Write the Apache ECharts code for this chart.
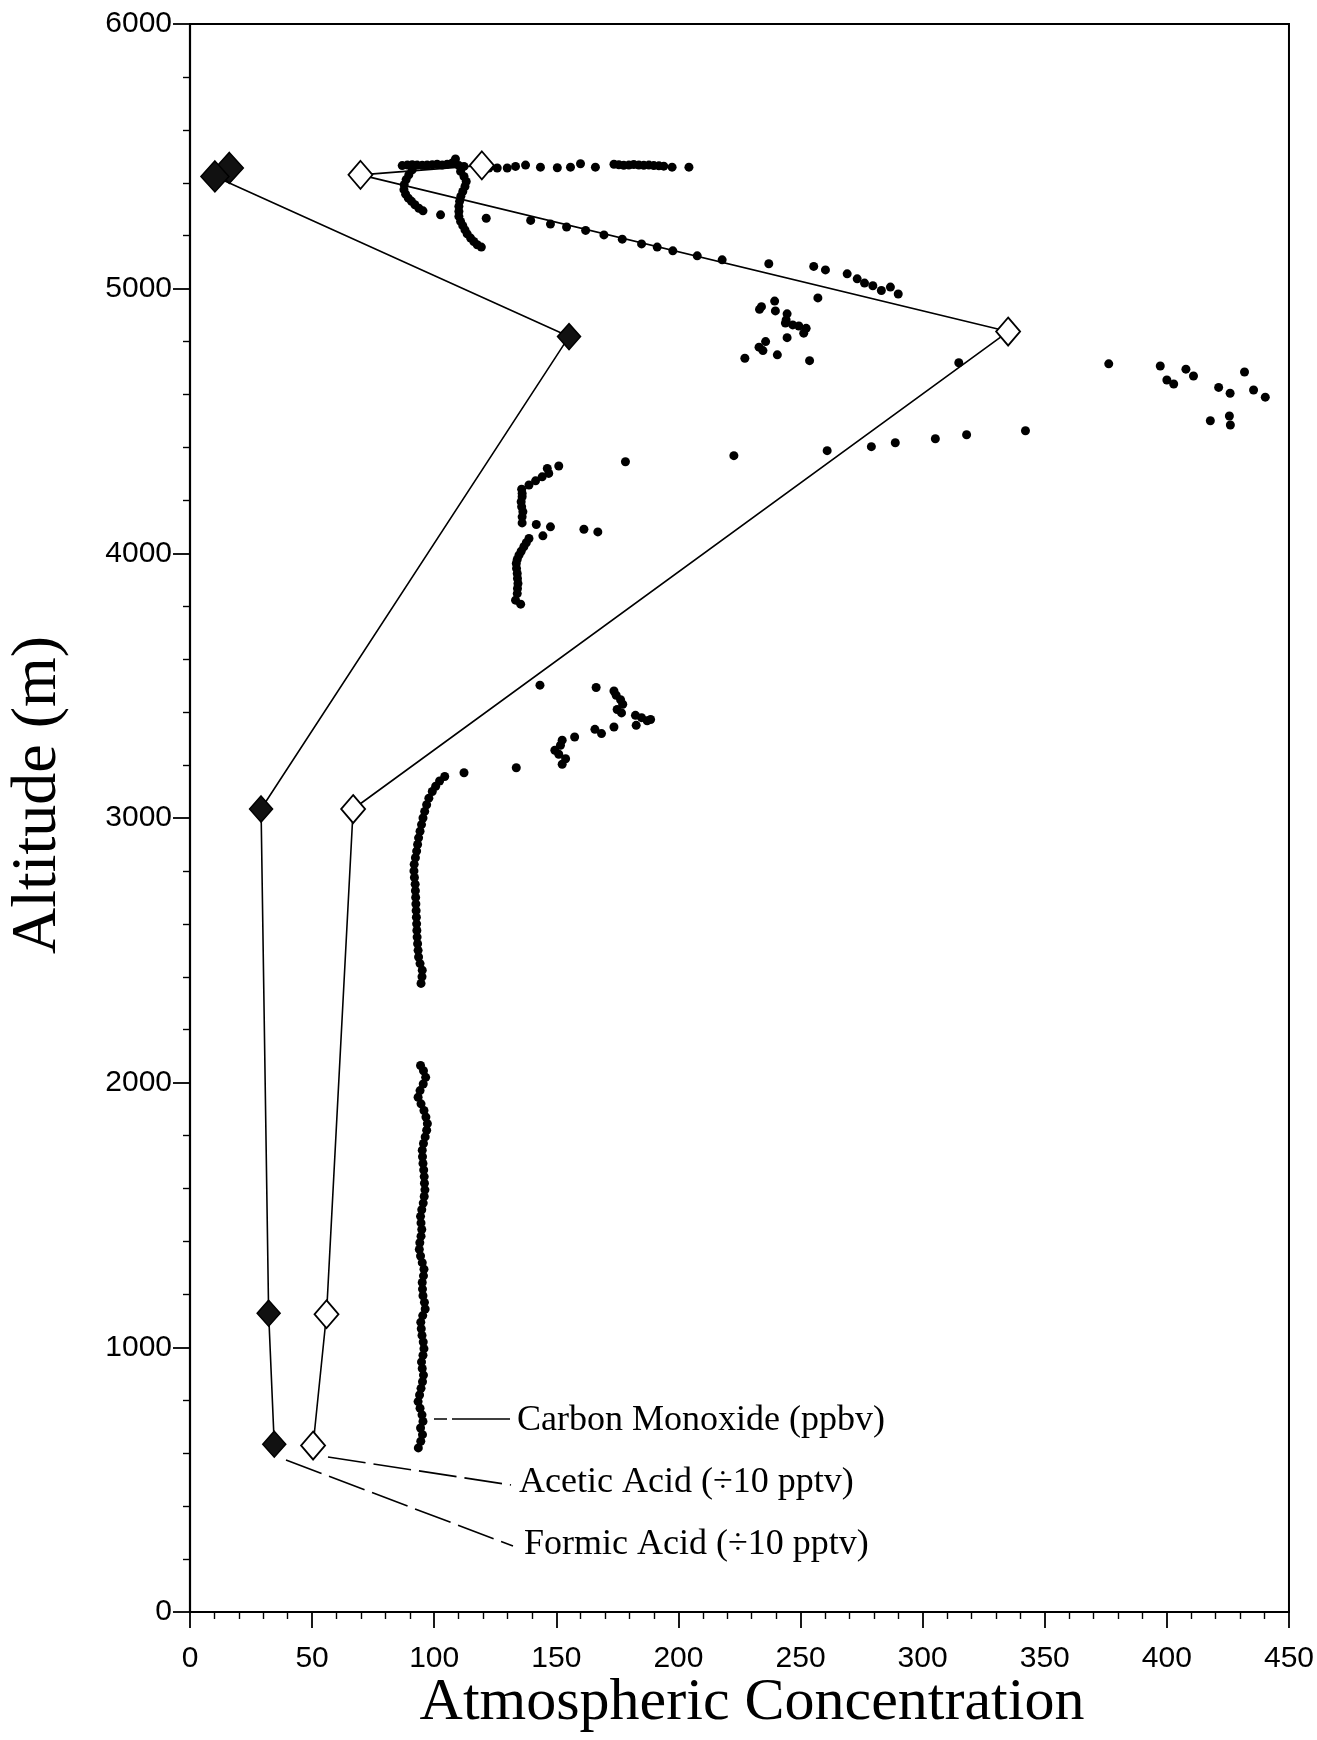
<!DOCTYPE html>
<html>
<head>
<meta charset="utf-8">
<title>Atmospheric Concentration vs Altitude</title>
<script src="https://cdn.jsdelivr.net/npm/echarts@6/dist/echarts.min.js"></script>
<style>
  html, body { margin: 0; padding: 0; background: #fff; }
  #chart { width: 1317px; height: 1740px; }
</style>
</head>
<body>
<div id="chart"></div>
<script>
// Axis ticks
const xTicks = [0, 50, 100, 150, 200, 250, 300, 350, 400, 450];
const yTicks = [0, 1000, 2000, 3000, 4000, 5000, 6000];

// Formic acid (÷10 pptv), ordered from the top of the profile down
const formicConc = [16.1, 10.2, 155.2, 29.1, 32.2, 34.5];
const formicAlt  = [5456, 5424, 4819, 3034, 1129, 634];

// Acetic acid (÷10 pptv)
const aceticConc = [119.5, 69.8, 335.0, 66.8, 55.9, 50.4];
const aceticAlt  = [5466, 5430, 4838, 3034, 1125, 629];

// Carbon monoxide (ppbv) samples as [concentration, altitude]
const coLowTrace = [
  [93.5,620],[94.5,645],[95.2,670],[94.4,695],[95.4,720],[95.0,745],[94.2,770],[93.4,795],
  [94.0,820],[94.6,845],[95.2,870],[95.6,895],[95.1,920],[94.8,945],[95.4,970],[95.8,995],
  [95.5,1020],[95.0,1045],[94.7,1070],[94.5,1095],[95.3,1120],[96.3,1145],[96.0,1170],[95.4,1195],
  [95.2,1220],[95.1,1245],[95.6,1270],[95.8,1295],[95.1,1320],[94.4,1345],[93.9,1370],[94.1,1395],
  [94.6,1420],[94.9,1445],[94.6,1470],[94.4,1495],[94.9,1520],[95.5,1545],[95.9,1570],[96.2,1595],
  [96.0,1620],[95.9,1645],[95.7,1670],[95.4,1695],[95.2,1720],[95.1,1745],[95.6,1770],[96.3,1795],
  [96.9,1820],[97.2,1845],[96.6,1870],[95.8,1895],[94.6,1920],[93.4,1945],[94.2,1970],[95.5,1995],
  [96.5,2020],[95.6,2045],[94.4,2065]
];
const coMidTrace = [
  [94.6,2375],[95.0,2400],[95.1,2425],[94.2,2450],[93.6,2475],[93.4,2500],[93.2,2525],[93.0,2550],
  [92.9,2575],[92.8,2600],[92.7,2625],[92.6,2650],[92.5,2675],[92.4,2700],[92.3,2725],[92.2,2750],
  [91.9,2775],[91.7,2800],[91.8,2825],[92.3,2850],[92.8,2875],[93.2,2900],[93.6,2925],[94.2,2950],
  [94.8,2975],[95.4,3000],[96.1,3025],[96.9,3050],[97.8,3075],[99.2,3100],[100.6,3120],[102.2,3140],
  [104.3,3157]
];
const coLayer3300 = [
  [112.2,3171],[133.6,3190],[152.4,3203],[153.8,3224],[151.0,3241],[149.4,3256],[151.7,3275],
  [152.4,3294],[157.5,3306],[168.5,3319],[165.8,3335],[173.6,3344],[182.7,3350],[187.2,3367],
  [188.6,3372],[184.9,3379],[182.4,3388],[176.7,3397],[174.9,3410],[177.2,3430],[176.3,3447],
  [174.5,3464],[173.6,3480],[166.3,3493],[143.3,3502]
];
const coLayer4000 = [
  [135.4,3808],[133.3,3823],[134.0,3848],[134.1,3867],[134.3,3886],[134.1,3905],[134.0,3924],
  [133.7,3943],[133.6,3962],[134.0,3977],[134.7,3993],[135.6,4008],[136.7,4025],[137.7,4040],
  [138.8,4056],[144.5,4066],[167.0,4081],[161.3,4091],[147.6,4100],[141.8,4109],
  [136.0,4115],[136.0,4138],[136.3,4157],[135.8,4176],[135.6,4195],[136.0,4214],[136.0,4226],
  [135.8,4242],[138.8,4258],[141.5,4274],[144.2,4289],[146.9,4302],[146.3,4321],[151.0,4330],
  [178.3,4346],[222.7,4369]
];
const coLayer4500 = [
  [260.9,4388],[279.0,4403],[288.8,4418],[305.2,4433],[318.0,4448],[342.1,4463],
  [426.0,4485],[417.8,4501],[425.6,4519],[440.3,4590],[425.9,4605],[435.5,4617],[421.2,4627],
  [402.8,4640],[400.0,4655],[410.9,4670],[431.8,4685],[407.8,4696],[397.3,4708],[376.2,4716],
  [314.8,4720]
];
const coLayer4850 = [
  [253.7,4728],[227.2,4737],[240.5,4750],[234.6,4766],[233.0,4779],[235.7,4800],[244.5,4815],
  [251.3,4832],[252.3,4850],[249.3,4859],[246.8,4863],[243.8,4870],[244.1,4882],[244.5,4905],
  [239.7,4916],[233.2,4922],[234.0,4932],[239.4,4953],[257.1,4965]
];
const coLayer5100 = [
  [290.0,4980],[283.1,4993],[286.8,5006],[279.6,5011],[276.2,5021],[273.2,5037],[269.1,5056],
  [260.2,5071],[255.4,5084],[237.0,5094],[217.9,5109],[207.7,5124],[197.7,5143],[191.3,5157],
  [184.9,5169],[177.0,5187],[169.5,5203],[162.0,5220],[154.2,5233],[147.6,5244],[139.5,5258],
  [121.3,5266],[102.6,5279]
];
const coTopTraces = [
  [95.4,5294],[93.7,5304],[92.1,5317],[90.7,5330],[89.4,5342],[88.3,5357],[87.6,5374],[87.7,5393],
  [88.5,5412],[89.6,5430],[91.0,5449],
  [119.3,5157],[117.6,5166],[116.2,5178],[114.9,5191],[113.5,5207],[112.6,5222],[111.7,5238],
  [110.8,5254],[110.1,5273],[110.1,5292],[110.1,5311],[110.4,5330],[110.9,5349],[111.7,5367],
  [112.6,5386],[113.1,5405],[112.2,5424],[110.8,5443]
];
const coTopRow = [
  [86.9,5465],[89.0,5467],[91.0,5468],[93.0,5467],[95.1,5466],[97.1,5467],[99.2,5468],[101.2,5470],
  [103.3,5467],[105.3,5470],[107.4,5475],[108.7,5490],[110.1,5465],[112.2,5462],
  [122.4,5456],[125.8,5456],[129.9,5456],[133.3,5462],[137.4,5467],[143.5,5459],[150.4,5457],
  [155.8,5459],[159.9,5472],[166.0,5459],[173.6,5470],[175.6,5468],[177.6,5466],[179.7,5467],
  [181.7,5469],[183.8,5467],[185.8,5466],[187.9,5467],[189.9,5465],[192.0,5464],[194.0,5463],
  [197.4,5459],[204.3,5459]
];

const coData = [].concat(coLowTrace, coMidTrace, coLayer3300, coLayer4000,
  coLayer4500, coLayer4850, coLayer5100, coTopTraces, coTopRow);
const formicData = formicConc.map((v, i) => [v, formicAlt[i]]);
const aceticData = aceticConc.map((v, i) => [v, aceticAlt[i]]);

const serif = '"Liberation Serif", "Times New Roman", serif';
const sans = '"Liberation Sans Narrow", "Liberation Sans", Arial, sans-serif';

const chart = echarts.init(document.getElementById('chart'), null, { renderer: 'canvas' });

function axisCommon(ticks) {
  return {
    type: 'value',
    min: ticks[0],
    max: ticks[ticks.length - 1],
    interval: ticks[1] - ticks[0],
    axisLine: { show: true, onZero: false, lineStyle: { color: '#000', width: 2.2 } },
    axisTick: { show: true, inside: false, lineStyle: { color: '#000', width: 1.8 } },
    minorTick: { show: true, splitNumber: 5, length: 7, lineStyle: { color: '#000', width: 1.4 } },
    splitLine: { show: false },
    minorSplitLine: { show: false },
    axisLabel: { color: '#000', fontFamily: sans, fontSize: 30, formatter: v => String(v) }
  };
}

const xAxis = axisCommon(xTicks);
xAxis.axisTick.length = 16;
xAxis.axisLabel.margin = 32;
const yAxis = axisCommon(yTicks);
yAxis.axisTick.length = 17;
yAxis.axisLabel.margin = 18;

chart.setOption({
  animation: false,
  backgroundColor: '#fff',
  grid: {
    left: 190, top: 24, width: 1101, height: 1588,
    show: true, borderColor: '#000', borderWidth: 2, backgroundColor: 'transparent'
  },
  xAxis: xAxis,
  yAxis: yAxis,
  series: [
    {
      name: 'Carbon Monoxide (ppbv)',
      type: 'scatter',
      data: coData,
      symbol: 'circle',
      symbolSize: 9,
      itemStyle: { color: '#000', opacity: 1 },
      z: 3
    },
    {
      name: 'Acetic Acid (÷10 pptv)',
      type: 'line',
      data: aceticData,
      symbol: 'diamond',
      symbolSize: [24, 28],
      showAllSymbol: true,
      lineStyle: { color: '#000', width: 1.6 },
      itemStyle: { color: '#fff', borderColor: '#000', borderWidth: 1.8 },
      z: 4
    },
    {
      name: 'Formic Acid (÷10 pptv)',
      type: 'line',
      data: formicData,
      symbol: 'diamond',
      symbolSize: (val, params) => params.dataIndex < 2 ? [28, 31] : [23, 26],
      showAllSymbol: true,
      lineStyle: { color: '#000', width: 1.6 },
      itemStyle: { color: '#111', borderColor: '#000', borderWidth: 1.5 },
      z: 4
    }
  ],
  graphic: [
    // axis titles
    {
      type: 'text', x: 38, y: 795, rotation: Math.PI / 2,
      style: { text: 'Altitude (m)', font: '64px ' + serif, fill: '#000',
        textAlign: 'center', textVerticalAlign: 'middle' }
    },
    {
      type: 'text', x: 752, y: 1703,
      style: { text: 'Atmospheric Concentration', font: '60px ' + serif, fill: '#000',
        textAlign: 'center', textVerticalAlign: 'middle' }
    },
    // labels with their leader lines
    {
      type: 'line', shape: { x1: 434, y1: 1419, x2: 510, y2: 1419 },
      style: { stroke: '#000', lineWidth: 1.6, lineDash: [13, 5, 58, 5] }
    },
    {
      type: 'line', shape: { x1: 328, y1: 1457, x2: 511, y2: 1485 },
      style: { stroke: '#000', lineWidth: 1.6, lineDash: [38, 8] }
    },
    {
      type: 'line', shape: { x1: 286, y1: 1460, x2: 513, y2: 1546 },
      style: { stroke: '#000', lineWidth: 1.6, lineDash: [38, 8] }
    },
    {
      type: 'text', x: 517, y: 1421,
      style: { text: 'Carbon Monoxide (ppbv)', font: '36px ' + serif, fill: '#000',
        textAlign: 'left', textVerticalAlign: 'middle' }
    },
    {
      type: 'text', x: 519, y: 1483,
      style: { text: 'Acetic Acid (÷10 pptv)', font: '36px ' + serif, fill: '#000',
        textAlign: 'left', textVerticalAlign: 'middle' }
    },
    {
      type: 'text', x: 524, y: 1545,
      style: { text: 'Formic Acid (÷10 pptv)', font: '36px ' + serif, fill: '#000',
        textAlign: 'left', textVerticalAlign: 'middle' }
    }
  ]
});
</script>
</body>
</html>
